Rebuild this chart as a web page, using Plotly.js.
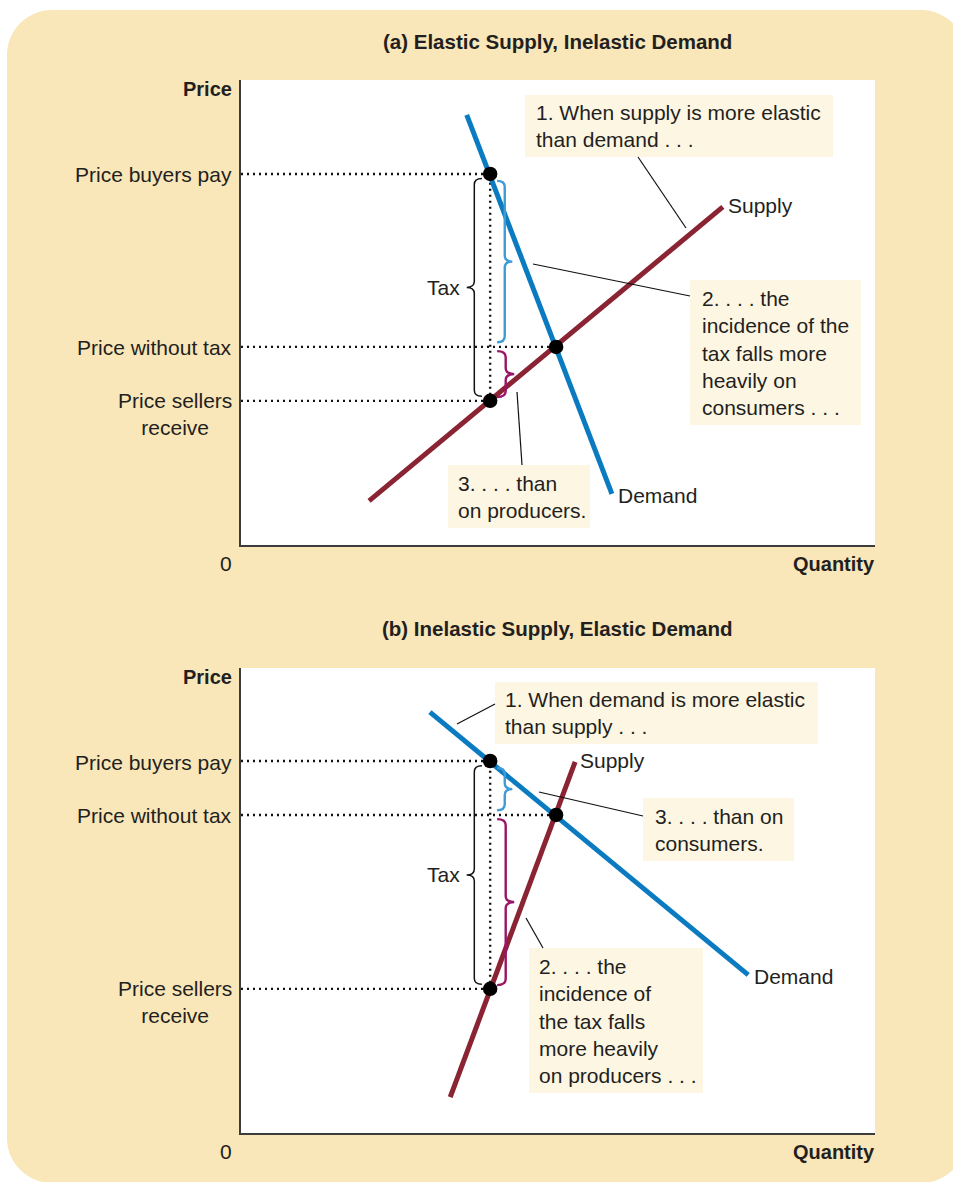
<!DOCTYPE html>
<html><head><meta charset="utf-8">
<script src="https://cdn.plot.ly/plotly-3.0.1.min.js"></script>
<style>
html,body{margin:0;padding:0;background:#fff;overflow:hidden;}
#wrap{position:relative;width:953px;height:1182px;overflow:hidden;}
#bg{position:absolute;left:7px;top:10px;width:959px;height:1173px;border-radius:45px;background:#F9E6B9;}
#chart{position:absolute;left:0;top:0;width:953px;height:1182px;}
</style></head><body>
<div id="wrap"><div id="bg"></div><div id="chart"></div></div>
<script>
// ---------------- data ----------------
const titles = ['(a) Elastic Supply, Inelastic Demand', '(b) Inelastic Supply, Elastic Demand'];
const priceLabels = ['Price buyers pay', 'Price without tax', 'Price sellers<br>receive'];
const axisLabels = ['Price', 'Quantity', '0'];

// Panel (a): prices [buyers pay, without tax, sellers receive]; quantities [with tax, without tax]
const A_prices = [79.8, 42.6, 31.0];
const A_quantities = [39.3, 49.7];
const A_supplyQ = [20.2, 76.0];
const A_supplyP = [9.5, 72.7];
const A_demandQ = [35.6, 58.5];
const A_demandP = [92.5, 11.0];
const A_notes = ['1. When supply is more elastic<br>than demand . . .',
                 '2. . . . the<br>incidence of the<br>tax falls more<br>heavily on<br>consumers . . .',
                 '3. . . . than<br>on producers.'];

// Panel (b)
const B_prices = [80.0, 68.4, 31.0];
const B_quantities = [39.3, 49.7];
const B_supplyQ = [33.0, 52.7];
const B_supplyP = [7.7, 79.8];
const B_demandQ = [29.8, 80.0];
const B_demandP = [90.5, 34.0];
const B_notes = ['1. When demand is more elastic<br>than supply . . .',
                 '2. . . . the<br>incidence of<br>the tax falls<br>more heavily<br>on producers . . .',
                 '3. . . . than on<br>consumers.'];

// ---------------- layout geometry (pixels) ----------------
const W = 953, H = 1182;
const PL = 241, PR = 875;
const panels = [
  {top: 80, bottom: 545, xa: 'x', ya: 'y', prices: A_prices, q: A_quantities,
   sQ: A_supplyQ, sP: A_supplyP, dQ: A_demandQ, dP: A_demandP, notes: A_notes, title: titles[0], titleY: 42,
   boxes: [{x0:525,x1:833,y0:95,y1:157,tx:536},{x0:690,x1:861,y0:280,y1:425,tx:702},{x0:448,x1:590,y0:465,y1:528,tx:458}],
   leaders: [[638,157,686,228],[690,296,533,264],[522,465,517,392]]},
  {top: 668, bottom: 1133, xa: 'x2', ya: 'y2', prices: B_prices, q: B_quantities,
   sQ: B_supplyQ, sP: B_supplyP, dQ: B_demandQ, dP: B_demandP, notes: B_notes, title: titles[1], titleY: 629,
   boxes: [{x0:495,x1:818,y0:682,y1:744,tx:505},{x0:529,x1:703,y0:948,y1:1093,tx:539},{x0:643,x1:794,y0:798,y1:861,tx:655}],
   leaders: [[495,704,457,724],[543,948,526,918],[643,816,539,792]]}
];
const px = v => v / W;
const py = v => 1 - v / H;

const FONT = 'Liberation Sans, Arial, Helvetica, sans-serif';
const TXT = '#231f20';
const BLUE = '#0B7BC1', RED = '#8A2332', LBLUE = '#3D9BD6', PURPLE = '#9A1467';

function brace(xe, xt, y0, y1, r) {
  const xm = (xe + xt) / 2, ym = (y0 + y1) / 2;
  return `M${xe},${y1} Q${xm},${y1} ${xm},${y1 - r} L${xm},${ym + r} Q${xm},${ym} ${xt},${ym} ` +
         `Q${xm},${ym} ${xm},${ym - r} L${xm},${y0 + r} Q${xm},${y0} ${xe},${y0}`;
}

const traces = [], shapes = [], annotations = [];
const layout = {
  width: W, height: H, margin: {l: 0, r: 0, t: 0, b: 0},
  paper_bgcolor: 'rgba(0,0,0,0)', plot_bgcolor: '#ffffff',
  showlegend: false, hovermode: false,
  font: {family: FONT, size: 21, color: TXT}
};
const A = o => Object.assign({showarrow: false, borderpad: 0, borderwidth: 0}, o);

panels.forEach((p, i) => {
  const sfx = i === 0 ? '' : '2';
  const ax = {range: [0, 100], showgrid: false, zeroline: false, showticklabels: false, ticks: '',
              showline: true, linecolor: '#3c3c3c', linewidth: 2, fixedrange: true, mirror: false};
  layout['xaxis' + sfx] = Object.assign({}, ax, {domain: [px(PL), px(PR)], anchor: 'y' + sfx});
  layout['yaxis' + sfx] = Object.assign({}, ax, {domain: [py(p.bottom), py(p.top)], anchor: 'x' + sfx});
  const dx = v => (v - PL) / (PR - PL) * 100;
  const dy = v => (p.bottom - v) / (p.bottom - p.top) * 100;

  const [pB, pW, pS] = p.prices;
  const [qT, qE] = p.q;

  // dotted guide lines
  traces.push({x: [0, qT, null, 0, qE, null, 0, qT, null, qT, qT],
               y: [pB, pB, null, pW, pW, null, pS, pS, null, pS, pB],
               xaxis: p.xa, yaxis: p.ya, mode: 'lines', cliponaxis: false,
               line: {color: '#111', width: 2.4, dash: '2px,4px'}});
  traces.push({x: p.sQ, y: p.sP, xaxis: p.xa, yaxis: p.ya, mode: 'lines', line: {color: RED, width: 5}});
  traces.push({x: p.dQ, y: p.dP, xaxis: p.xa, yaxis: p.ya, mode: 'lines', line: {color: BLUE, width: 5}});
  traces.push({x: [qT, qE, qT], y: [pB, pW, pS], xaxis: p.xa, yaxis: p.ya, mode: 'markers',
               marker: {color: '#000', size: 14.5}, cliponaxis: false});

  // callout boxes
  p.boxes.forEach((b, k) => {
    shapes.push({type: 'rect', xref: p.xa, yref: p.ya, layer: 'below',
                 x0: dx(b.x0), x1: dx(b.x1), y0: dy(b.y1), y1: dy(b.y0),
                 fillcolor: '#FDF6E3', line: {width: 0}});
    annotations.push(A({xref: 'paper', yref: 'paper', x: px(b.tx), y: py((b.y0 + b.y1) / 2),
                      xanchor: 'left', yanchor: 'middle', align: 'left', text: p.notes[k]}));
  });
  p.leaders.forEach(l => {
    shapes.push({type: 'line', xref: p.xa, yref: p.ya, x0: dx(l[0]), y0: dy(l[1]), x1: dx(l[2]), y1: dy(l[3]),
                 line: {color: '#111', width: 1.2}});
  });

  // braces
  shapes.push({type: 'path', xref: p.xa, yref: p.ya, path: brace(qT - 1.3, qT - 3.7, pS + 1.0, pB - 1.0, 1.3),
               line: {color: '#111', width: 1.5}});
  shapes.push({type: 'path', xref: p.xa, yref: p.ya, path: brace(qT + 1.1, qT + 3.5, pW + 1.0, pB - 1.5, 1.3),
               line: {color: LBLUE, width: 2.4}});
  shapes.push({type: 'path', xref: p.xa, yref: p.ya, path: brace(qT + 1.1, qT + 3.8, pS + 0.8, pW - 0.9, 1.3),
               line: {color: PURPLE, width: 2.4}});

  // labels
  annotations.push(A({xref: p.xa, yref: p.ya, x: qT - 4.8, y: (pB + pS) / 2, xanchor: 'right', yanchor: 'middle',
                    text: 'Tax'}));
  annotations.push(A({xref: p.xa, yref: p.ya, x: p.sQ[1], y: p.sP[1], xanchor: 'left', yanchor: 'middle',
                    xshift: 5, yshift: 1, text: 'Supply'}));
  annotations.push(A({xref: p.xa, yref: p.ya, x: p.dQ[1], y: p.dP[1], xanchor: 'left', yanchor: 'middle',
                    xshift: 6, yshift: -2, text: 'Demand'}));

  // price tick labels
  p.prices.forEach((v, k) => {
    const two = priceLabels[k].indexOf('<br>') >= 0;
    annotations.push(A({xref: 'paper', yref: p.ya, x: px(232), y: v, xanchor: 'right',
                      yanchor: 'middle', align: two ? 'center' : 'right', yshift: two ? -13 : -1,
                      text: priceLabels[k]}));
  });
  annotations.push(A({xref: 'paper', yref: 'paper', x: px(232), y: py(p.top + 9), xanchor: 'right', yanchor: 'middle',
                    text: '<b>' + axisLabels[0] + '</b>', font: {size: 20}}));
  annotations.push(A({xref: 'paper', yref: 'paper', x: px(PR), y: py(p.bottom + 19), xanchor: 'right', yanchor: 'middle',
                    text: '<b>' + axisLabels[1] + '</b>', font: {size: 20}}));
  annotations.push(A({xref: 'paper', yref: 'paper', x: px(226), y: py(p.bottom + 18), xanchor: 'center', yanchor: 'middle',
                    text: axisLabels[2]}));
  annotations.push(A({xref: 'paper', yref: 'paper', x: px(557), y: py(p.titleY), xanchor: 'center', yanchor: 'middle',
                    text: '<b>' + p.title + '</b>', font: {size: 20.5}}));
});

layout.shapes = shapes;
layout.annotations = annotations;
Plotly.newPlot('chart', traces, layout, {staticPlot: true, displayModeBar: false});
</script>
</body></html>
